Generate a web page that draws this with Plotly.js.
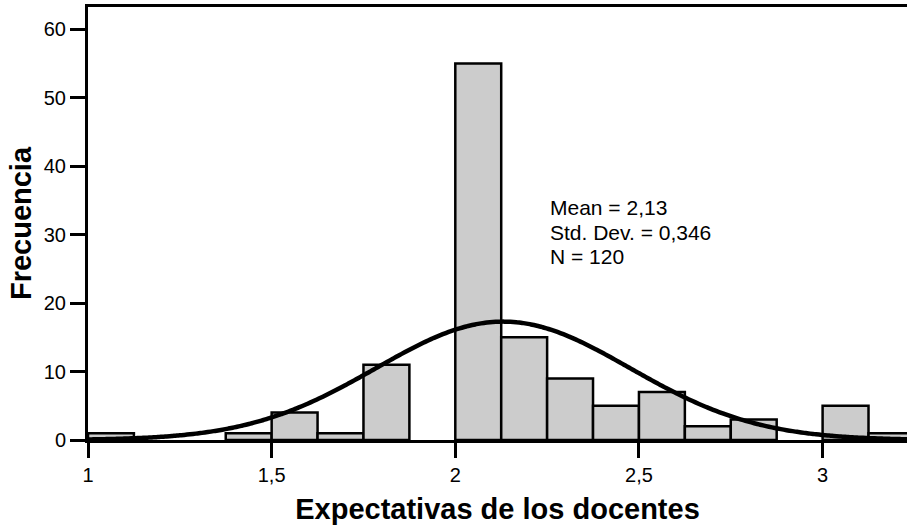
<!DOCTYPE html>
<html>
<head>
<meta charset="utf-8">
<script src="https://cdn.plot.ly/plotly-3.0.1.min.js"></script>
<style>
  html, body { margin: 0; padding: 0; background: #ffffff; }
  #chart { width: 907px; height: 527px; }
</style>
</head>
<body>
<div id="chart"></div>
<script>
// Histogram bins: lower edge of each bin and its frequency
const binStarts = [1.0, 1.375, 1.5, 1.625, 1.75, 2.0, 2.125, 2.25, 2.375, 2.5, 2.625, 2.75, 3.0, 3.125];
const counts    = [1,   1,     4,   1,     11,   55,  15,    9,    5,     7,   2,     3,    5,   1];
const binWidth = 0.125;

// Descriptive statistics shown in the plot
const meanValue = 2.13;
const stdDev = 0.346;
const nCases = 120;
const statsLines = ["Mean = 2,13", "Std. Dev. = 0,346", "N = 120"];

// Axis ticks
const xTickVals = [1, 1.5, 2, 2.5, 3];
const xTickText = ["1", "1,5", "2", "2,5", "3"];
const yTickVals = [0, 10, 20, 30, 40, 50, 60];
const yTickText = ["0", "10", "20", "30", "40", "50", "60"];

const FONT = "Liberation Sans, Arial, Helvetica, sans-serif";

// Bars centred on their bins
const barCenters = binStarts.map(s => s + binWidth / 2);

// Normal curve scaled to frequencies (N * bin width * density)
const curveX = [];
const curveY = [];
for (let i = 0; i <= 300; i++) {
  const x = 0.95 + i * (3.35 - 0.95) / 300;
  const z = (x - meanValue) / stdDev;
  curveX.push(x);
  curveY.push(nCases * binWidth * Math.exp(-0.5 * z * z) / (stdDev * Math.sqrt(2 * Math.PI)));
}

const traces = [
  {
    type: "bar",
    x: barCenters,
    y: counts,
    width: binWidth,
    marker: { color: "#cccccc", line: { color: "#000000", width: 2.5 } },
    hoverinfo: "x+y",
    showlegend: false
  },
  {
    type: "scatter",
    mode: "lines",
    x: curveX,
    y: curveY,
    line: { color: "#000000", width: 4.5, shape: "spline" },
    hoverinfo: "skip",
    showlegend: false
  }
];

const annotations = statsLines.map((t, i) => ({
  text: t,
  xref: "x", yref: "y",
  x: 2.2537, y: 33.9,
  yshift: -24.5 * i,
  xanchor: "left", yanchor: "middle",
  showarrow: false,
  align: "left",
  font: { family: FONT, size: 21, color: "#000000" }
}));

const layout = {
  width: 907,
  height: 527,
  margin: { l: 88, r: 0, t: 7, b: 87 },
  paper_bgcolor: "#ffffff",
  plot_bgcolor: "#ffffff",
  font: { family: FONT, size: 20, color: "#000000" },
  bargap: 0,
  showlegend: false,
  xaxis: {
    range: [1, 3.2298],
    tickvals: xTickVals,
    ticktext: xTickText,
    ticks: "outside",
    ticklen: 15,
    tickwidth: 3,
    tickcolor: "#000000",
    showline: true,
    linewidth: 3,
    linecolor: "#000000",
    mirror: true,
    showgrid: false,
    zeroline: false,
    tickfont: { family: FONT, size: 20, color: "#000000" },
    title: {
      text: "<b>Expectativas de los docentes</b>",
      font: { family: FONT, size: 29, color: "#000000" },
      standoff: 14
    }
  },
  yaxis: {
    range: [0, 63.26],
    tickvals: yTickVals,
    ticktext: yTickText,
    ticks: "outside",
    ticklen: 15,
    tickwidth: 3,
    tickcolor: "#000000",
    showline: true,
    linewidth: 3,
    linecolor: "#000000",
    showgrid: false,
    zeroline: false,
    tickfont: { family: FONT, size: 20, color: "#000000" },
    title: {
      text: "<b>Frecuencia</b>",
      font: { family: FONT, size: 29, color: "#000000" },
      standoff: 4
    }
  },
  annotations: annotations
};

Plotly.newPlot("chart", traces, layout, { displayModeBar: false, staticPlot: true });
</script>
</body>
</html>
